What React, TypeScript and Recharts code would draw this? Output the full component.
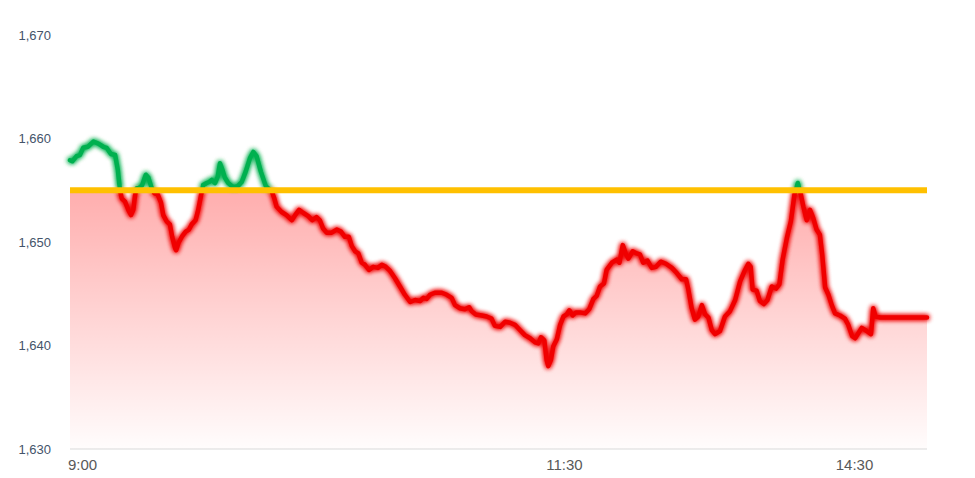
import React from 'react';
import {
  Area,
  ComposedChart,
  Line,
  ReferenceLine,
  XAxis,
  YAxis,
} from 'recharts';

// minutes since 9:00 and the traded price at that moment
const times = [
  0, 0.7, 2.0, 3.0, 4.0, 5.4, 7.1, 8.6, 10.1, 11.1, 12.4, 13.7, 14.5, 15.2, 15.7,
  16.7, 17.7, 18.5, 19.2, 19.7, 20.2, 20.9, 21.9, 23.0, 23.8, 24.6, 25.6, 26.6,
  27.6, 28.3, 29.3, 30.3, 31.0, 31.9, 32.2, 32.9, 34.1, 35.1, 36.1, 36.9, 38.1,
  38.9, 40.0, 40.4, 41.5, 42.2, 43.0, 44.0, 44.8, 45.5, 46.2, 47.0, 48.0, 49.5,
  50.9, 52.1, 53.3, 54.6, 55.6, 56.6, 57.9, 59.4, 61.2, 62.0, 62.7, 64.2, 65.7,
  67.3, 68.3, 69.5, 70.8, 72.3, 73.5, 74.8, 75.8, 76.8, 77.9, 79.4, 80.9, 82.2,
  83.4, 84.6, 85.5, 86.5, 87.5, 88.5, 89.5, 90.7, 92.0, 93.4, 94.6, 95.8, 97.1,
  98.6, 100.1, 101.6, 103.2, 104.7, 106.2, 107.2, 108.2, 109.2, 110.7, 112.8,
  114.3, 115.8, 116.8, 118.3, 119.8, 121.1, 121.9, 123.1, 124.9, 126.4, 127.9,
  128.9, 130.5, 132.0, 133.5, 135.0, 136.5, 138.0, 139.6, 141.1, 142.1, 142.9,
  143.9, 144.6, 145.1, 145.9, 146.6, 147.7, 148.7, 149.7, 150.7, 151.5, 152.5,
  153.5, 154.7, 156.3, 157.5, 158.8, 159.8, 160.8, 162.0, 162.8, 164.4, 165.9,
  166.7, 167.7, 168.7, 169.4, 170.7, 171.9, 172.9, 173.9, 175.2, 176.5, 177.8,
  179.2, 180.8, 182.6, 184.1, 185.6, 186.9, 187.6, 188.6, 189.6, 190.6, 191.7,
  192.7, 193.7, 194.7, 195.7, 197.2, 198.7, 200.2, 201.8, 203.3, 204.8, 205.8,
  206.5, 207.1, 208.3, 209.3, 210.5, 211.6, 212.9, 214.2, 215.2, 216.2, 217.5,
  218.7, 219.8, 220.8, 221.5, 222.5, 223.5, 224.5, 225.5, 226.5, 227.5, 228.2,
  229.1, 230.1, 231.1, 232.1, 233.6, 235.1, 236.1, 237.3, 238.2, 239.2, 240.2,
  241.7, 243.0, 243.7, 244.4, 245.8, 260,
];

const prices = [
  1657.9, 1657.8, 1658.3, 1658.4, 1659.1, 1659.2, 1659.7, 1659.5, 1659.2, 1659.1,
  1658.5, 1658.4, 1657.0, 1654.9, 1654.2, 1653.9, 1653.1, 1652.6, 1653.1, 1654.4,
  1655.2, 1655.2, 1655.5, 1656.5, 1656.2, 1655.4, 1654.7, 1654.6, 1653.8, 1652.6,
  1652.0, 1651.7, 1650.5, 1649.4, 1649.2, 1649.9, 1650.6, 1651.0, 1651.2, 1651.7,
  1652.1, 1653.1, 1654.9, 1655.5, 1655.7, 1655.8, 1656.0, 1655.7, 1656.3, 1657.6,
  1657.0, 1656.2, 1655.7, 1655.3, 1655.4, 1655.8, 1656.8, 1658.1, 1658.7, 1658.3,
  1656.8, 1655.4, 1654.9, 1654.2, 1653.4, 1652.9, 1652.6, 1652.1, 1652.6, 1653.1,
  1652.8, 1652.5, 1652.1, 1652.4, 1652.1, 1651.3, 1650.9, 1650.9, 1651.2, 1651.0,
  1650.5, 1650.5, 1649.6, 1649.1, 1648.9, 1648.0, 1647.8, 1647.3, 1647.6, 1647.5,
  1647.8, 1647.6, 1647.2, 1646.5, 1645.7, 1644.9, 1644.2, 1644.4, 1644.3, 1644.6,
  1644.5, 1644.9, 1645.1, 1645.1, 1644.9, 1644.6, 1643.9, 1643.6, 1643.5, 1643.7,
  1643.3, 1643.0, 1642.9, 1642.8, 1642.6, 1641.9, 1641.8, 1642.3, 1642.2, 1642.0,
  1641.5, 1641.0, 1640.7, 1640.3, 1640.2, 1640.8, 1640.5, 1638.6, 1638.0, 1638.6,
  1639.9, 1640.6, 1642.0, 1642.8, 1643.0, 1643.4, 1642.9, 1643.2, 1643.2, 1643.1,
  1643.5, 1644.5, 1644.8, 1645.7, 1646.0, 1647.3, 1648.0, 1648.3, 1648.0, 1649.7,
  1648.8, 1648.4, 1649.1, 1648.9, 1648.8, 1648.0, 1648.2, 1647.5, 1647.6, 1648.1,
  1647.9, 1647.5, 1647.0, 1646.4, 1646.4, 1645.4, 1643.6, 1642.5, 1642.8, 1643.9,
  1643.0, 1642.7, 1641.5, 1641.1, 1641.4, 1642.8, 1643.3, 1644.4, 1646.2, 1647.3,
  1647.9, 1647.6, 1645.4, 1645.3, 1644.3, 1644.0, 1644.4, 1645.7, 1645.5, 1645.9,
  1648.3, 1650.4, 1652.0, 1654.6, 1655.7, 1654.9, 1653.4, 1652.1, 1653.1, 1652.3,
  1651.2, 1650.7, 1648.8, 1645.6, 1644.9, 1643.9, 1643.1, 1642.9, 1642.6, 1642.0,
  1640.9, 1640.7, 1641.2, 1641.7, 1641.4, 1641.1, 1643.6, 1642.8, 1642.7, 1642.7,
];

const basePrice = 1655;
const yTicks = [1630, 1640, 1650, 1660, 1670];
const xTicks = [0, 150, 238];
const xTickLabels = ['9:00', '11:30', '14:30'];

const rows = times.map((t, i) => ({
  t,
  price: prices[i],
  fillTop: Math.min(prices[i], basePrice),
}));

const hi = Math.max(...prices);
const lo = Math.min(...prices);
const splitAt = (hi - basePrice) / (hi - lo);

function TimeTick(props: any) {
  const { x, y, payload, index } = props;
  const label = xTickLabels[xTicks.indexOf(payload.value)];
  return (
    <text
      x={index === 0 ? x - 2 : x}
      y={y}
      dy={19}
      textAnchor={index === 0 ? 'start' : 'middle'}
      fill="#595959"
      fontSize={15}
      fontFamily="Liberation Sans, Arial, sans-serif"
    >
      {label}
    </text>
  );
}

export default function App() {
  return (
    <div style={{ position: 'absolute', left: 0, top: 0, background: '#fff' }}>
      <ComposedChart
        width={975}
        height={478}
        data={rows}
        margin={{ top: 35, right: 48, bottom: 0, left: 0 }}
      >
        <defs>
          <linearGradient id="areaFill" x1="0" y1="0" x2="0" y2="1">
            <stop offset="0%" stopColor="#ff0000" stopOpacity={0.32} />
            <stop offset="100%" stopColor="#ff0000" stopOpacity={0.01} />
          </linearGradient>
          <linearGradient id="lineColor" x1="0" y1="0" x2="0" y2="1">
            <stop offset={splitAt} stopColor="#00b050" />
            <stop offset={splitAt} stopColor="#f00000" />
          </linearGradient>
          <filter id="glow" x="-5%" y="-20%" width="110%" height="140%">
            <feGaussianBlur in="SourceGraphic" stdDeviation="2.6" result="blur" />
            <feMerge>
              <feMergeNode in="blur" />
              <feMergeNode in="blur" />
              <feMergeNode in="SourceGraphic" />
            </feMerge>
          </filter>
        </defs>
        <XAxis
          dataKey="t"
          type="number"
          domain={[0, 260]}
          ticks={xTicks}
          tick={<TimeTick />}
          tickLine={false}
          tickSize={0}
          height={29}
          axisLine={{ stroke: '#d9d9d9' }}
          interval={0}
        />
        <YAxis
          domain={[1630, 1670]}
          ticks={yTicks}
          width={70}
          axisLine={false}
          tickLine={false}
          tickSize={0}
          tickMargin={19}
          tickFormatter={(v: number) => v.toLocaleString('en-US')}
          tick={{
            fill: '#44546a',
            fontSize: 13,
            fontFamily: 'Liberation Sans, Arial, sans-serif',
          }}
        />
        <Area
          type="linear"
          dataKey="fillTop"
          stroke="none"
          fill="url(#areaFill)"
          fillOpacity={1}
          isAnimationActive={false}
        />
        <Line
          type="linear"
          dataKey="price"
          stroke="url(#lineColor)"
          strokeWidth={4.5}
          strokeLinejoin="round"
          strokeLinecap="round"
          dot={false}
          activeDot={false}
          filter="url(#glow)"
          isAnimationActive={false}
        />
        <ReferenceLine y={basePrice} stroke="#ffc000" strokeWidth={6} />
      </ComposedChart>
    </div>
  );
}
